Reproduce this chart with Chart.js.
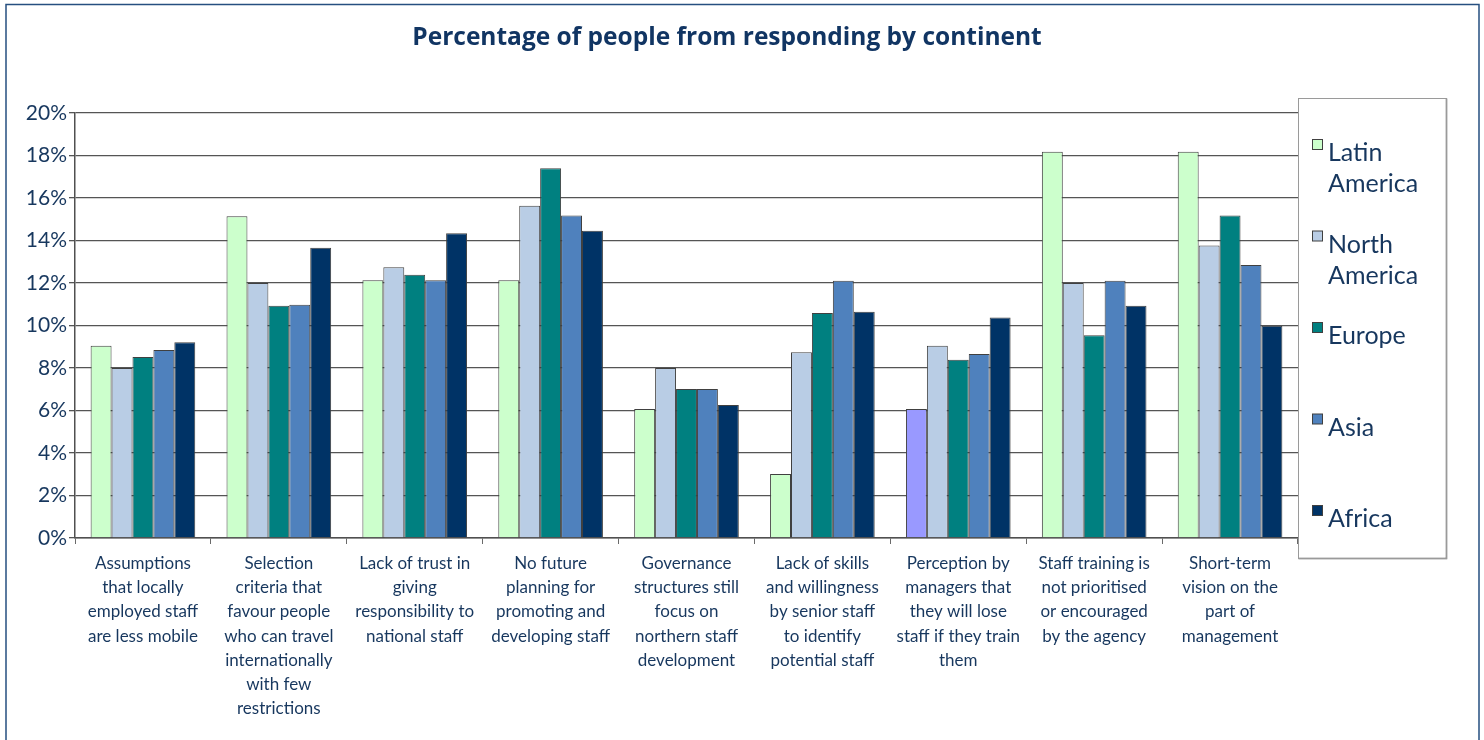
<!DOCTYPE html>
<html>
<head>
<meta charset="utf-8">
<script src="https://cdn.jsdelivr.net/npm/chart.js@4/dist/chart.umd.min.js"></script>
<style>
  html, body { margin: 0; padding: 0; background: #ffffff; }
  #wrap { width: 1484px; height: 740px; position: relative; }
</style>
</head>
<body>
<div id="wrap"><canvas id="continentChart" width="1484" height="740"></canvas></div>
<script>
// Survey answers, share of respondents per continent
const categories = [
    ['Assumptions', 'that locally', 'employed staff', 'are less mobile'],
    ['Selection', 'criteria that', 'favour people', 'who can travel', 'internationally', 'with few', 'restrictions'],
    ['Lack of trust in', 'giving', 'responsibility to', 'national staff'],
    ['No future', 'planning for', 'promoting and', 'developing staff'],
    ['Governance', 'structures still', 'focus on', 'northern staff', 'development'],
    ['Lack of skills', 'and willingness', 'by senior staff', 'to identify', 'potential staff'],
    ['Perception by', 'managers that', 'they will lose', 'staff if they train', 'them'],
    ['Staff training is', 'not prioritised', 'or encouraged', 'by the agency'],
    ['Short-term', 'vision on the', 'part of', 'management']
];

const seriesNames = ['Latin America', 'North America', 'Europe', 'Asia', 'Africa'];
const seriesColors = ['#CCFFCC', '#B9CDE5', '#008080', '#4F81BD', '#003366'];

const latinAmerica = [9.05, 15.14, 12.13, 12.13, 6.07, 3.01, 6.07, 18.18, 18.18];
const northAmerica = [8.0, 12.0, 12.74, 15.64, 8.0, 8.74, 9.05, 12.0, 13.77];
const europe       = [8.52, 10.93, 12.39, 17.4, 7.01, 10.59, 8.39, 9.54, 15.18];
const asia         = [8.85, 10.98, 12.13, 15.18, 7.01, 12.11, 8.66, 12.11, 12.85];
const africa       = [9.21, 13.66, 14.34, 14.46, 6.26, 10.65, 10.38, 10.93, 9.99];

const yTicks = [0, 2, 4, 6, 8, 10, 12, 14, 16, 18, 20];

const chartTitle = 'Percentage of people from responding by continent';

const seriesValues = [latinAmerica, northAmerica, europe, asia, africa];

const navy = '#17375E';
const fontFamily = 'Lato, "Open Sans", sans-serif';

// the "Perception by managers" Latin America bar is filled lavender
const latinFills = latinAmerica.map((v, i) => i === 6 ? '#9999FF' : seriesColors[0]);

const datasets = seriesNames.map((name, i) => ({
    label: name,
    data: seriesValues[i],
    backgroundColor: i === 0 ? latinFills : seriesColors[i],
    borderColor: '#404040',
    borderWidth: 1
}));

// outer frame, title across the whole frame and the boxed legend on the right
const framePlugin = {
    id: 'frameAndLegend',
    afterDraw(chart) {
        const ctx = chart.ctx;
        ctx.save();
        ctx.strokeStyle = '#264F80';
        ctx.lineWidth = 1.5;
        ctx.beginPath();
        ctx.moveTo(6, 740);
        ctx.lineTo(6, 4.5);
        ctx.lineTo(1479, 4.5);
        ctx.lineTo(1479, 740);
        ctx.stroke();

        ctx.fillStyle = '#113563';
        ctx.font = 'bold 24.5px "Open Sans", sans-serif';
        ctx.textAlign = 'center';
        ctx.textBaseline = 'middle';
        ctx.fillText(chartTitle, 727, 38);

        // legend box
        const bx = 1298.5, by = 98.5, bw = 148, bh = 460;
        ctx.fillStyle = '#ffffff';
        ctx.fillRect(bx, by, bw, bh);
        ctx.strokeStyle = '#5f5f5f';
        ctx.lineWidth = 1.5;
        ctx.beginPath();
        ctx.moveTo(bx + bw, by);
        ctx.lineTo(bx + bw, by + bh);
        ctx.lineTo(bx, by + bh);
        ctx.stroke();
        ctx.strokeStyle = '#9a9a9a';
        ctx.lineWidth = 1;
        ctx.strokeRect(bx, by, bw, bh);

        ctx.font = '25px ' + fontFamily;
        ctx.textBaseline = 'alphabetic';
        ctx.textAlign = 'left';
        seriesNames.forEach((name, i) => {
            const top = 139 + i * 91.5;
            ctx.fillStyle = seriesColors[i];
            ctx.fillRect(1312.5, top + 0.5, 10, 10);
            ctx.strokeStyle = '#404040';
            ctx.lineWidth = 1;
            ctx.strokeRect(1312.5, top + 0.5, 10, 10);
            ctx.fillStyle = navy;
            name.split(' ').forEach((word, k) => {
                ctx.fillText(word, 1328, top + 22 + k * 31);
            });
        });
        ctx.restore();
    }
};

const ctxContinent = document.getElementById('continentChart').getContext('2d');
const continentChart = new Chart(ctxContinent, {
    type: 'bar',
    data: {
        labels: categories,
        datasets: datasets
    },
    options: {
        responsive: false,
        animation: false,
        layout: {
            padding: { left: 0, right: 186, top: 113, bottom: 0 }
        },
        datasets: {
            bar: { categoryPercentage: 0.77, barPercentage: 1.0 }
        },
        scales: {
            x: {
                afterFit(scale) { scale.height = 202; },
                grid: {
                    display: true,
                    drawOnChartArea: false,
                    offset: true,
                    tickLength: 6,
                    color: '#6a6a6a'
                },
                border: { color: '#505050', width: 1.5 },
                ticks: {
                    autoSkip: false,
                    maxRotation: 0,
                    minRotation: 0,
                    padding: 7,
                    color: navy,
                    font: { family: fontFamily, size: 17, lineHeight: 1.43 }
                }
            },
            y: {
                min: 0,
                max: 20,
                afterFit(scale) { scale.width = 75; },
                afterBuildTicks(scale) {
                    scale.ticks = yTicks.map(v => ({ value: v }));
                },
                grid: {
                    color: '#555555',
                    lineWidth: 1.3,
                    tickLength: 6
                },
                border: { color: '#505050', width: 1.5 },
                ticks: {
                    padding: 2,
                    color: navy,
                    font: { family: fontFamily, size: 21 },
                    callback: v => v + '%'
                }
            }
        },
        plugins: {
            legend: { display: false },
            tooltip: { enabled: false },
            title: { display: false }
        }
    },
    plugins: [framePlugin]
});
</script>
</body>
</html>
